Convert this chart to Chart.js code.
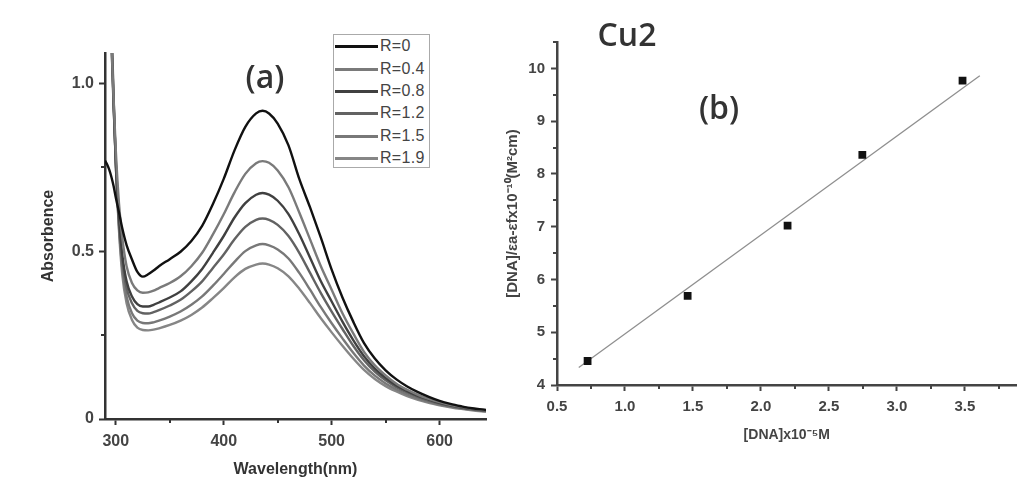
<!DOCTYPE html>
<html><head><meta charset="utf-8">
<script src="https://cdn.jsdelivr.net/npm/chart.js@4.4.1/dist/chart.umd.min.js"></script>
<style>
html,body{margin:0;padding:0;background:#fff;width:1022px;height:484px;overflow:hidden;}
#wrap{position:relative;width:1022px;height:484px;}
canvas{position:absolute;top:0;}
#ca{left:0;} #cb{left:480px;}
.lbl{position:absolute;font-family:'Open Sans',sans-serif;font-weight:600;color:#333;transform:translate(-50%,-50%);white-space:nowrap;line-height:1;}
#legend{position:absolute;left:333px;top:34px;width:97px;height:134px;border:1.5px solid #aaa;box-sizing:border-box;background:#fff;}
.row{position:absolute;left:0;height:20px;width:95px;}
.sw{position:absolute;left:1px;top:9px;width:43px;height:3px;}
.tx{position:absolute;left:46px;top:0;font:16px 'Liberation Sans',Arial,sans-serif;color:#444;line-height:20px;letter-spacing:0.3px;}
</style></head><body>
<div id="wrap">
<canvas id="ca" width="500" height="484"></canvas>
<canvas id="cb" width="542" height="484"></canvas>
<div id="legend"></div>
<div class="lbl" style="left:265px;top:76px;font-size:32px">(a)</div>
<div class="lbl" style="left:627px;top:34px;font-size:32px">Cu2</div>
<div class="lbl" style="left:719px;top:107px;font-size:32px">(b)</div>
</div>
<script>
// ---------- Panel (a) data ----------
const wavelength = [290,292,294,296,298,300,303,306,310,315,320,325,330,335,340,350,360,370,380,390,400,410,420,430,436,442,450,460,470,480,490,500,510,520,530,540,550,560,570,580,590,600,610,620,630,643];
const absR0  = [0.77,0.758,0.742,0.72,0.693,0.66,0.615,0.568,0.518,0.475,0.438,0.424,0.431,0.442,0.455,0.476,0.498,0.53,0.575,0.64,0.715,0.80,0.87,0.91,0.918,0.91,0.88,0.815,0.715,0.63,0.54,0.445,0.362,0.29,0.226,0.18,0.145,0.118,0.097,0.08,0.066,0.054,0.045,0.038,0.032,0.027];
const absR04 = [1.55,1.42,1.28,1.12,0.95,0.8,0.64,0.54,0.455,0.405,0.383,0.376,0.377,0.382,0.39,0.405,0.425,0.455,0.495,0.55,0.61,0.675,0.73,0.762,0.768,0.763,0.74,0.69,0.615,0.535,0.455,0.385,0.315,0.255,0.2,0.16,0.13,0.105,0.087,0.072,0.06,0.05,0.042,0.036,0.031,0.026];
const absR08 = [1.6,1.46,1.3,1.12,0.93,0.77,0.6,0.49,0.41,0.365,0.342,0.335,0.335,0.34,0.347,0.362,0.38,0.41,0.447,0.495,0.545,0.6,0.643,0.668,0.673,0.668,0.65,0.61,0.55,0.48,0.41,0.35,0.29,0.235,0.187,0.15,0.122,0.1,0.083,0.069,0.058,0.048,0.041,0.035,0.03,0.025];
const absR12 = [1.65,1.5,1.33,1.14,0.94,0.76,0.58,0.47,0.39,0.345,0.322,0.315,0.314,0.318,0.324,0.338,0.355,0.38,0.41,0.45,0.49,0.535,0.572,0.593,0.597,0.593,0.578,0.545,0.495,0.435,0.375,0.32,0.268,0.218,0.175,0.141,0.115,0.095,0.079,0.066,0.055,0.046,0.039,0.033,0.029,0.024];
const absR15 = [1.7,1.55,1.36,1.16,0.95,0.76,0.57,0.45,0.365,0.315,0.293,0.286,0.285,0.288,0.293,0.305,0.32,0.34,0.365,0.397,0.432,0.468,0.5,0.517,0.521,0.517,0.505,0.478,0.435,0.385,0.333,0.285,0.24,0.197,0.159,0.129,0.106,0.088,0.073,0.061,0.051,0.043,0.037,0.032,0.028,0.023];
const absR19 = [1.75,1.6,1.4,1.18,0.96,0.76,0.56,0.43,0.345,0.295,0.272,0.265,0.264,0.266,0.27,0.28,0.293,0.31,0.332,0.36,0.39,0.422,0.447,0.46,0.463,0.46,0.449,0.425,0.388,0.345,0.3,0.258,0.218,0.18,0.146,0.119,0.098,0.082,0.068,0.057,0.048,0.041,0.035,0.03,0.026,0.022];
const seriesLabels = ['R=0','R=0.4','R=0.8','R=1.2','R=1.5','R=1.9'];
const seriesColors = ['#111111','#7a7a7a','#404040','#626262','#787878','#868686'];
const xTicksA = [300,400,500,600];
const xMinorA = [350,450,550];
const yTicksA = [0,0.5,1.0];
const yTickLabelsA = ['0','0.5','1.0'];
const yMinorA = [0.25,0.75];

// ---------- Panel (b) data ----------
const dnaConc = [0.725,1.461,2.196,2.746,3.483];
const dnaRatio = [4.455,5.69,7.02,8.36,9.77];
const fitX = [0.66,3.61];
const fitY = [4.33,9.86];
const xTicksB = [0.5,1.0,1.5,2.0,2.5,3.0,3.5];
const xTickLabelsB = ['0.5','1.0','1.5','2.0','2.5','3.0','3.5'];
const xMinorB = [0.75,1.25,1.75,2.25,2.75,3.25,3.75];
const yTicksB = [4,5,6,7,8,9,10];
const yMinorB = [4.5,5.5,6.5,7.5,8.5,9.5,10.5];

const FONT = "'Liberation Sans', Arial, sans-serif";

const minorTicks = {
  id: 'minorTicks',
  afterDraw(chart, args, opts) {
    const ctx = chart.ctx, xs = chart.scales.x, ys = chart.scales.y;
    ctx.save();
    ctx.strokeStyle = opts.color; ctx.lineWidth = opts.width;
    (opts.x || []).forEach(v => { const p = Math.round(xs.getPixelForValue(v)); ctx.beginPath(); ctx.moveTo(p, xs.top); ctx.lineTo(p, xs.top + opts.len); ctx.stroke(); });
    (opts.y || []).forEach(v => { const p = Math.round(ys.getPixelForValue(v)); ctx.beginPath(); ctx.moveTo(ys.right, p); ctx.lineTo(ys.right - opts.len, p); ctx.stroke(); });
    ctx.restore();
  }
};

const seriesA = [absR0, absR04, absR08, absR12, absR15, absR19];
const dsA = seriesA.map((arr, i) => ({
  label: seriesLabels[i],
  data: wavelength.map((w, k) => ({x: w, y: arr[k]})),
  borderColor: seriesColors[i],
  borderWidth: 2.4,
  pointRadius: 0,
  cubicInterpolationMode: 'monotone',
  fill: false
}));

new Chart(document.getElementById('ca'), {
  type: 'line',
  data: { datasets: dsA },
  options: {
    responsive: false, animation: false, devicePixelRatio: 1,
    layout: { padding: { top: 53, right: 14, left: 0, bottom: 0 } },
    plugins: { legend: { display: false }, tooltip: { enabled: false },
      minorTicks: { x: xMinorA, y: yMinorA, len: 4, width: 2, color: '#333' } },
    scales: {
      x: {
        type: 'linear', min: 290, max: 643,
        afterBuildTicks: s => { s.ticks = xTicksA.map(v => ({ value: v })); },
        afterFit: s => { s.height = 65; },
        border: { display: true, color: '#333', width: 2.5 },
        grid: { display: true, drawOnChartArea: false, drawTicks: true, tickLength: 6, tickWidth: 2, tickColor: '#333' },
        ticks: { padding: 7, color: '#444', maxRotation: 0, font: { family: FONT, size: 16, weight: 'bold' }, callback: v => String(v) },
        title: { display: true, text: 'Wavelength(nm)', color: '#333', font: { family: FONT, size: 16, weight: 'bold' }, padding: { top: 0, bottom: 5 } }
      },
      y: {
        type: 'linear', min: 0, max: 1.09,
        afterBuildTicks: s => { s.ticks = yTicksA.map(v => ({ value: v })); },
        afterFit: s => { s.width = 105; },
        border: { display: true, color: '#333', width: 2.5 },
        grid: { display: true, drawOnChartArea: false, drawTicks: true, tickLength: 6, tickWidth: 2, tickColor: '#333' },
        ticks: { padding: 5, color: '#444', font: { family: FONT, size: 16, weight: 'bold' }, callback: (v, i) => yTickLabelsA[i] },
        title: { display: true, text: 'Absorbence', color: '#333', font: { family: FONT, size: 16, weight: 'bold' }, padding: { top: 39, bottom: 0 } }
      }
    }
  },
  plugins: [minorTicks]
});

new Chart(document.getElementById('cb'), {
  type: 'scatter',
  data: { datasets: [
    { label: 'data', data: dnaConc.map((x, i) => ({ x, y: dnaRatio[i] })), pointStyle: 'rect', pointRadius: 5.5, backgroundColor: '#111', borderColor: '#111', borderWidth: 0, showLine: false },
    { label: 'fit', data: fitX.map((x, i) => ({ x, y: fitY[i] })), showLine: true, pointRadius: 0, borderColor: '#8f8f8f', borderWidth: 1.3 }
  ] },
  options: {
    responsive: false, animation: false, devicePixelRatio: 1,
    layout: { padding: { top: 42, right: 0, left: 0, bottom: 0 } },
    plugins: { legend: { display: false }, tooltip: { enabled: false },
      minorTicks: { x: xMinorB, y: yMinorB, len: 4, width: 2, color: '#444' } },
    scales: {
      x: {
        type: 'linear', min: 0.5, max: 3.88,
        afterBuildTicks: s => { s.ticks = xTicksB.map(v => ({ value: v })); },
        afterFit: s => { s.height = 99; },
        border: { display: true, color: '#444', width: 2.5 },
        grid: { display: true, drawOnChartArea: false, drawTicks: true, tickLength: 6, tickWidth: 2, tickColor: '#444' },
        ticks: { padding: 7, color: '#444', maxRotation: 0, font: { family: FONT, size: 15, weight: 'bold' }, callback: (v, i) => xTickLabelsB[i] },
        title: { display: true, text: '[DNA]x10\u207B\u2075M', color: '#444', font: { family: FONT, size: 14, weight: 'bold' }, padding: { top: 0, bottom: 40 } }
      },
      y: {
        type: 'linear', min: 4, max: 10.5,
        afterBuildTicks: s => { s.ticks = yTicksB.map(v => ({ value: v })); },
        afterFit: s => { s.width = 77; },
        border: { display: true, color: '#444', width: 2.5 },
        grid: { display: true, drawOnChartArea: false, drawTicks: true, tickLength: 6, tickWidth: 2, tickColor: '#444' },
        ticks: { padding: 6, color: '#444', font: { family: FONT, size: 15, weight: 'bold' }, callback: v => String(v) },
        title: { display: true, text: '[DNA]/\u03B5a-\u03B5fx10\u207B\u00B9\u2070(M\u00B2cm)', color: '#444', font: { family: FONT, size: 15, weight: 'bold' }, padding: { top: 24, bottom: 0 } }
      }
    }
  },
  plugins: [minorTicks]
});

// HTML legend built from the series labels/colours
const leg = document.getElementById('legend');
const rowTops = [1, 24, 46, 68, 91, 113];
seriesLabels.forEach((lab, i) => {
  const r = document.createElement('div');
  r.className = 'row'; r.style.top = rowTops[i] + 'px';
  const sw = document.createElement('div'); sw.className = 'sw'; sw.style.background = seriesColors[i];
  const tx = document.createElement('div'); tx.className = 'tx'; tx.textContent = lab;
  r.appendChild(sw); r.appendChild(tx); leg.appendChild(r);
});
</script>
</body></html>
